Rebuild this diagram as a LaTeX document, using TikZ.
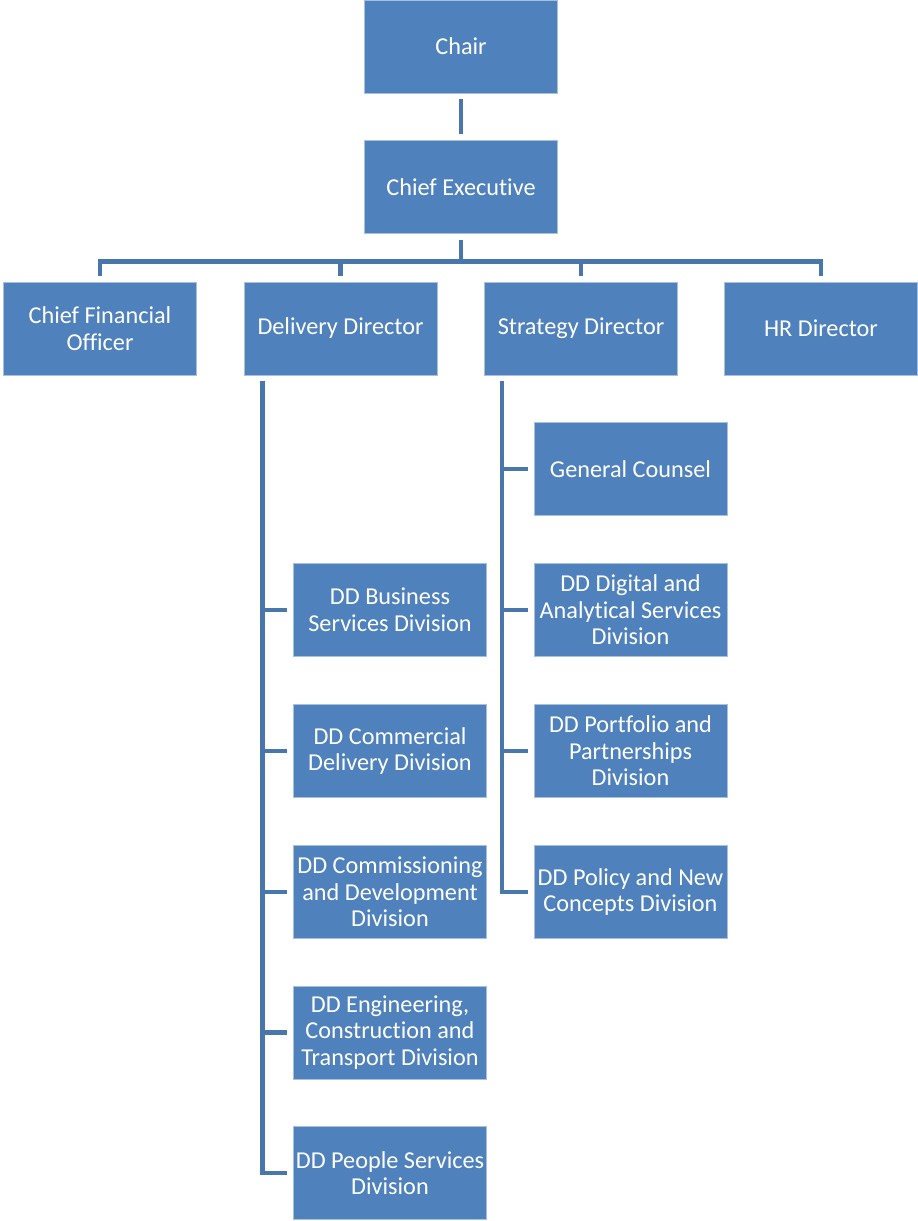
\documentclass[tikz,border=0pt]{standalone}
\usepackage{fontspec}
\setmainfont{Carlito}[Ligatures={NoCommon}]
\usepackage{tikz}
\usetikzlibrary{positioning,calc}
\definecolor{orgfill}{HTML}{4F81BD}
\definecolor{orgedge}{HTML}{A7C0DE}
\definecolor{orgline}{HTML}{4A76AE}

\begin{document}
\begin{tikzpicture}[
  unit/.style={rectangle, fill=orgfill, draw=orgedge, line width=0.4pt,
    minimum width=3.86cm, minimum height=1.86cm,
    align=center, text=white, inner sep=0pt,
    font=\fontsize{13.8}{15.1}\selectfont},
  link/.style={draw=orgline, line width=2.8pt}
]
\useasboundingbox (0,0) rectangle (18.36,-24.42);

% Top
\node[unit] (chair) at (9.22, -0.93) {Chair};
\node[unit] (ce) at (9.22, -3.74) {Chief Executive};

% Directors
\node[unit] (cfo) at (2.00, -6.57) {Chief Financial\\Officer};
\node[unit] (dd) at (6.81, -6.57) {Delivery Director};
\node[unit] (sd) at (11.62, -6.57) {Strategy Director};
\node[unit] (hr) at (16.42, -6.57) {HR Director};

% Delivery divisions
\node[unit] (busdiv) at (7.80, -12.20) {DD Business\\Services Division};
\node[unit] (comdiv) at (7.80, -15.02) {DD Commercial\\Delivery Division};
\node[unit] (cmsdiv) at (7.80, -17.84) {DD Commissioning\\and Development\\Division};
\node[unit] (engdiv) at (7.80, -20.65) {DD Engineering,\\Construction and\\Transport Division};
\node[unit] (ppldiv) at (7.80, -23.46) {DD People Services\\Division};

% Strategy divisions
\node[unit] (gc) at (12.61, -9.38) {General Counsel};
\node[unit] (digdiv) at (12.61, -12.20) {DD Digital and\\Analytical Services\\Division};
\node[unit] (prtdiv) at (12.61, -15.02) {DD Portfolio and\\Partnerships\\Division};
\node[unit] (poldiv) at (12.61, -17.84) {DD Policy and New\\Concepts Division};

% Connectors
\draw[link, shorten <=0.12cm, shorten >=0.12cm] (chair) -- (ce);
\coordinate (bus) at ($(ce.south)+(0,-0.56)$);
\draw[link] ([yshift=-0.12cm]ce.south) -- (bus);
\foreach \d in {cfo,dd,sd,hr}
  \draw[link] (bus) -| ([yshift=0.12cm]\d.north);

\coordinate (ddtop) at ($(dd.south)+(-1.56,-0.12)$);
\foreach \c in {busdiv,comdiv,cmsdiv,engdiv,ppldiv}
  \draw[link] (ddtop) |- ([xshift=-0.12cm]\c.west);

\coordinate (sdtop) at ($(sd.south)+(-1.58,-0.12)$);
\foreach \c in {gc,digdiv,prtdiv,poldiv}
  \draw[link] (sdtop) |- ([xshift=-0.12cm]\c.west);

\end{tikzpicture}
\end{document}
